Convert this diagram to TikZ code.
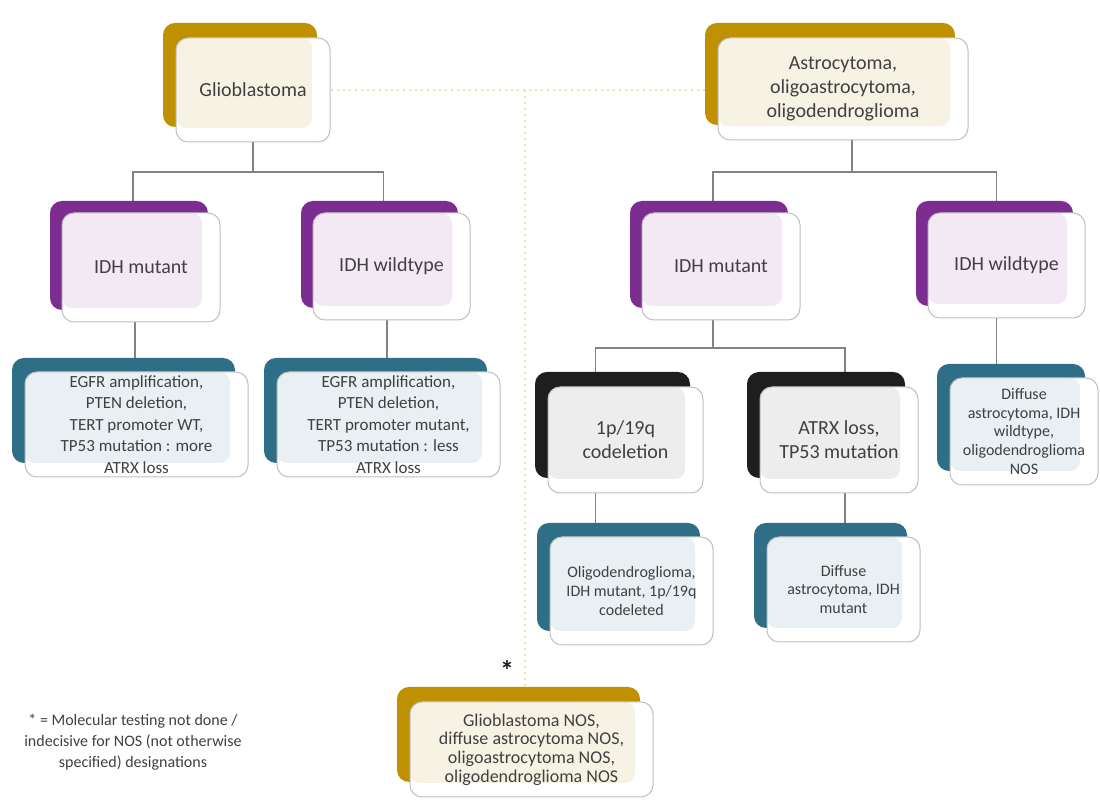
\documentclass[tikz,border=0pt]{standalone}
\usepackage{fontspec}
\setmainfont{Carlito}
\usetikzlibrary{shadows,backgrounds}
\definecolor{gold}{RGB}{191,144,0}
\definecolor{goldtint}{RGB}{247,243,228}
\definecolor{plum}{RGB}{125,45,145}
\definecolor{plumtint}{RGB}{243,233,245}
\definecolor{petrol}{RGB}{46,110,135}
\definecolor{petroltint}{RGB}{233,240,244}
\definecolor{ink}{RGB}{30,30,30}
\definecolor{inktint}{RGB}{237,237,237}
\definecolor{txt}{RGB}{64,64,64}
\definecolor{wire}{RGB}{130,130,130}
\definecolor{dots}{RGB}{238,226,165}
\tikzset{card/.style={rectangle,rounded corners=6pt,draw=black!25,line width=0.5pt,fill=white,align=center,text=txt,inner sep=1pt,font=\fontsize{10}{12}\selectfont,
  path picture={\fill[#1,rounded corners=5pt] (path picture bounding box.north west) rectangle ([xshift=-9pt,yshift=7pt]path picture bounding box.south east);}}}
\tikzset{gbox/.style={card=goldtint,general shadow={shadow xshift=-6.5pt,shadow yshift=7.5pt,fill=gold,draw=none}}}
\tikzset{pbox/.style={card=plumtint,general shadow={shadow xshift=-6pt,shadow yshift=6pt,fill=plum,draw=none}}}
\tikzset{tbox/.style={card=petroltint,general shadow={shadow xshift=-6.5pt,shadow yshift=7pt,fill=petrol,draw=none}}}
\tikzset{kbox/.style={card=inktint,general shadow={shadow xshift=-6.5pt,shadow yshift=7.5pt,fill=ink,draw=none}}}
\tikzset{small/.style={font=\fontsize{8.5}{10.75}\selectfont}}
\tikzset{tiny/.style={font=\fontsize{8}{9.3}\selectfont}}
\tikzset{link/.style={draw=wire,line width=0.6pt}}
\tikzset{dotline/.style={draw=dots,line width=1pt,dotted}}

\begin{document}
\begin{tikzpicture}[x=0.5pt,y=-0.5pt]
  \useasboundingbox (0,0) rectangle (1100,801);
  % top level
  \node[gbox,minimum width=77pt,minimum height=52pt] (glio) at (253,90) {Glioblastoma};
  \node[gbox,minimum width=125pt,minimum height=51pt] (astro) at (843,89) {Astrocytoma,\\oligoastrocytoma,\\oligodendroglioma};
  % IDH status
  \node[pbox,minimum width=79pt,minimum height=54.5pt] (idhmutL) at (141,267.5) {IDH mutant};
  \node[pbox,minimum width=78.5pt,minimum height=53.5pt] (idhwildL) at (391.5,266.5) {IDH wildtype};
  \node[pbox,minimum width=79pt,minimum height=53.5pt] (idhmutR) at (721,266.5) {IDH mutant};
  \node[pbox,minimum width=78.5pt,minimum height=52.5pt] (idhwildR) at (1006.5,265.5) {IDH wildtype};
  % glioblastoma markers
  \node[tbox,small,minimum width=111.5pt,minimum height=52.5pt] (egfrL) at (136.5,424.5) {EGFR amplification,\\PTEN deletion,\\TERT promoter WT,\\TP53 mutation : more\\ATRX loss};
  \node[tbox,small,minimum width=111.5pt,minimum height=52.5pt] (egfrR) at (388.5,424.5) {EGFR amplification,\\PTEN deletion,\\TERT promoter mutant,\\TP53 mutation : less\\ATRX loss};
  % codeletion / ATRX
  \node[kbox,minimum width=77.5pt,minimum height=53pt] (codel) at (625.5,440) {1p/19q\\codeletion};
  \node[kbox,minimum width=79pt,minimum height=53pt] (atrx) at (839,440) {ATRX loss,\\TP53 mutation};
  \node[tbox,tiny,minimum width=74pt,minimum height=53.5pt] (diffwild) at (1024,431.5) {Diffuse\\astrocytoma, IDH\\wildtype,\\oligodendroglioma\\NOS};
  % diagnoses
  \node[tbox,tiny,minimum width=81.5pt,minimum height=54pt] (oligo) at (631.5,591) {Oligodendroglioma,\\IDH mutant, 1p/19q\\codeleted};
  \node[tbox,tiny,minimum width=76.5pt,minimum height=52.5pt] (diffmut) at (843.5,589.5) {Diffuse\\astrocytoma, IDH\\mutant};
  \node[gbox,font=\fontsize{9}{9.3}\selectfont,minimum width=121.5pt,minimum height=47.5pt] (nos) at (531.5,749.5) {Glioblastoma NOS,\\diffuse astrocytoma NOS,\\oligoastrocytoma NOS,\\oligodendroglioma NOS};
  \node[text=ink,font=\fontsize{14}{14}\selectfont\bfseries] (star) at (507,670) {*};
  \node[text=txt,align=center,font=\fontsize{8}{10.5}\selectfont] (note) at (133,742) {* = Molecular testing not done /\\indecisive for NOS (not otherwise\\specified) designations};

  \begin{scope}[on background layer]
    \fill[white] (0,0) rectangle (1100,801);
    \coordinate (jD) at (525,90);
    \draw[dotline] (glio.east) -- (glio.east -| astro.west);
    \draw[dotline] (jD) -- (jD |- nos.north);
    \coordinate (jL) at (253,172);
    \draw[link] (glio.south) -- (jL) -| ([xshift=-4pt]idhmutL.north);
    \draw[link] (jL) -| ([xshift=-4pt]idhwildL.north);
    \draw[link] ([xshift=-3pt]idhmutL.south) -- ([xshift=-3pt]idhmutL.south |- egfrL.north);
    \draw[link] ([xshift=-2.25pt]idhwildL.south) -- ([xshift=-2.25pt]idhwildL.south |- egfrR.north);
    \coordinate (jR) at (852,172);
    \draw[link] (astro.south -| jR) -- (jR) -| ([xshift=-4pt]idhmutR.north);
    \draw[link] (jR) -| ([xshift=-5pt]idhwildR.north);
    \coordinate (jM) at (713,348);
    \draw[link] (idhmutR.south -| jM) -- (jM) -| ([xshift=-15pt]codel.north);
    \draw[link] (jM) -| ([xshift=3pt]atrx.north);
    \draw[link] ([xshift=-15pt]codel.south) -- ([xshift=-15pt]codel.south |- oligo.north);
    \draw[link] ([xshift=3pt]atrx.south) -- ([xshift=3pt]atrx.south |- diffmut.north);
    \draw[link] ([xshift=-5pt]idhwildR.south) -- ([xshift=-5pt]idhwildR.south |- diffwild.north);
  \end{scope}
\end{tikzpicture}
\end{document}
